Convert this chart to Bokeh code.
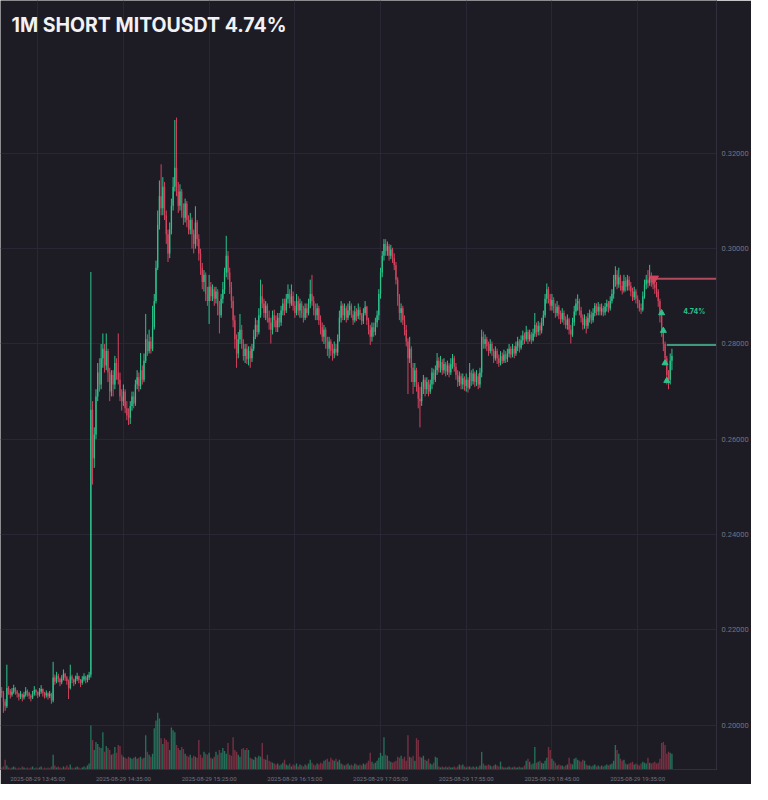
import numpy as np
from bokeh.plotting import figure
from bokeh.models import ColumnDataSource, FixedTicker, Range1d, Label, PrintfTickFormatter
from bokeh.embed import file_html
from bokeh.resources import INLINE

# ---------------- data ----------------
title_text = "1M SHORT MITOUSDT 4.74%"
start_minute = 24          # first candle 13:24 (minutes after 13:00), 1-minute candles
first_open = 0.2072

closes = [
    0.2068, 0.2050, 0.2040, 0.2078, 0.2072, 0.2064, 0.2070, 0.2078, 0.2071, 0.2066,
    0.2060, 0.2066, 0.2058, 0.2064, 0.2072, 0.2068, 0.2062, 0.2058, 0.2066, 0.2074,
    0.2069, 0.2064, 0.2071, 0.2076, 0.2068, 0.2063, 0.2067, 0.2061, 0.2066, 0.2052,
    0.2100, 0.2092, 0.2104, 0.2097, 0.2090, 0.2098, 0.2108, 0.2100, 0.2093, 0.2078,
    0.2102, 0.2096, 0.2090, 0.2097, 0.2103, 0.2095, 0.2089, 0.2096, 0.2102, 0.2095,
    0.2100, 0.2106, 0.2662, 0.2560, 0.2610, 0.2690, 0.2740, 0.2715, 0.2770, 0.2790,
    0.2755, 0.2785, 0.2740, 0.2700, 0.2735, 0.2715, 0.2760, 0.2740, 0.2725, 0.2690,
    0.2680, 0.2700, 0.2665, 0.2650, 0.2645, 0.2670, 0.2690, 0.2675, 0.2715, 0.2730,
    0.2712, 0.2745, 0.2725, 0.2765, 0.2810, 0.2785, 0.2805, 0.2790, 0.2835, 0.2890,
    0.2960, 0.3050, 0.3110, 0.3085, 0.3130, 0.3070, 0.3030, 0.2990, 0.3040, 0.3090,
    0.3130, 0.3170, 0.3120, 0.3090, 0.3120, 0.3080, 0.3065, 0.3095, 0.3060, 0.3040,
    0.3060, 0.3030, 0.3010, 0.3055, 0.3020, 0.2990, 0.2960, 0.2930, 0.2945, 0.2905,
    0.2890, 0.2920, 0.2900, 0.2915, 0.2895, 0.2910, 0.2880, 0.2860, 0.2895, 0.2915,
    0.2950, 0.2985, 0.2950, 0.2920, 0.2890, 0.2850, 0.2810, 0.2780, 0.2810, 0.2830,
    0.2800, 0.2775, 0.2790, 0.2768, 0.2785, 0.2770, 0.2790, 0.2815, 0.2840, 0.2825,
    0.2860, 0.2900, 0.2885, 0.2865, 0.2880, 0.2855, 0.2845, 0.2830, 0.2860, 0.2850,
    0.2835, 0.2855, 0.2845, 0.2870, 0.2885, 0.2870, 0.2895, 0.2905, 0.2885, 0.2900,
    0.2880, 0.2865, 0.2890, 0.2870, 0.2885, 0.2865, 0.2855, 0.2875, 0.2865, 0.2885,
    0.2905, 0.2890, 0.2870, 0.2860, 0.2875, 0.2850, 0.2835, 0.2815, 0.2830, 0.2805,
    0.2790, 0.2805, 0.2785, 0.2780, 0.2790, 0.2782, 0.2810, 0.2855, 0.2880, 0.2860,
    0.2875, 0.2855, 0.2870, 0.2880, 0.2862, 0.2850, 0.2868, 0.2858, 0.2872, 0.2860,
    0.2848, 0.2865, 0.2878, 0.2850, 0.2830, 0.2815, 0.2835, 0.2825, 0.2845, 0.2860,
    0.2905, 0.2950, 0.2985, 0.3010, 0.2995, 0.3005, 0.2985, 0.2998, 0.2980, 0.2965,
    0.2935, 0.2900, 0.2865, 0.2875, 0.2850, 0.2830, 0.2805, 0.2770, 0.2790, 0.2750,
    0.2720, 0.2745, 0.2715, 0.2685, 0.2680, 0.2710, 0.2725, 0.2705, 0.2720, 0.2700,
    0.2715, 0.2740, 0.2725, 0.2745, 0.2765, 0.2750, 0.2762, 0.2745, 0.2758, 0.2742,
    0.2755, 0.2740, 0.2758, 0.2770, 0.2752, 0.2735, 0.2720, 0.2732, 0.2715, 0.2728,
    0.2712, 0.2725, 0.2708, 0.2740, 0.2722, 0.2738, 0.2720, 0.2732, 0.2715, 0.2740,
    0.2815, 0.2800, 0.2810, 0.2795, 0.2785, 0.2800, 0.2785, 0.2770, 0.2785, 0.2770,
    0.2760, 0.2775, 0.2765, 0.2778, 0.2768, 0.2780, 0.2790, 0.2778, 0.2790, 0.2780,
    0.2795, 0.2805, 0.2792, 0.2808, 0.2818, 0.2810, 0.2825, 0.2810, 0.2820, 0.2808,
    0.2822, 0.2840, 0.2825, 0.2838, 0.2828, 0.2845, 0.2860, 0.2895, 0.2915, 0.2895,
    0.2880, 0.2892, 0.2875, 0.2865, 0.2878, 0.2862, 0.2852, 0.2865, 0.2850, 0.2840,
    0.2852, 0.2830, 0.2820, 0.2845, 0.2868, 0.2885, 0.2890, 0.2870, 0.2855, 0.2840,
    0.2852, 0.2838, 0.2855, 0.2862, 0.2850, 0.2865, 0.2880, 0.2868, 0.2878, 0.2868,
    0.2875, 0.2866, 0.2878, 0.2885, 0.2875, 0.2890, 0.2905, 0.2935, 0.2945, 0.2925,
    0.2940, 0.2922, 0.2912, 0.2932, 0.2920, 0.2935, 0.2922, 0.2910, 0.2898, 0.2910,
    0.2895, 0.2885, 0.2875, 0.2872, 0.2900, 0.2925, 0.2935, 0.2928, 0.2940, 0.2930,
    0.2925, 0.2918, 0.2910, 0.2890, 0.2860, 0.2830, 0.2800, 0.2770, 0.2735, 0.2725,
    0.2765, 0.2775,
]

highs = [
    0.2080, 0.2072, 0.2055, 0.2127, 0.2082, 0.2076, 0.2078, 0.2085, 0.2080, 0.2074,
    0.2068, 0.2072, 0.2065, 0.2070, 0.2080, 0.2075, 0.2070, 0.2065, 0.2072, 0.2082,
    0.2076, 0.2071, 0.2078, 0.2084, 0.2077, 0.2070, 0.2073, 0.2069, 0.2072, 0.2068,
    0.2133, 0.2106, 0.2112, 0.2108, 0.2100, 0.2105, 0.2117, 0.2110, 0.2103, 0.2096,
    0.2127, 0.2106, 0.2098, 0.2104, 0.2110, 0.2104, 0.2097, 0.2103, 0.2109, 0.2104,
    0.2106, 0.2112, 0.2951, 0.2680, 0.2625, 0.2705, 0.2760, 0.2770, 0.2800, 0.2822,
    0.2800, 0.2822, 0.2790, 0.2750, 0.2745, 0.2745, 0.2775, 0.2770, 0.2822, 0.2740,
    0.2705, 0.2715, 0.2705, 0.2680, 0.2665, 0.2680, 0.2700, 0.2700, 0.2725, 0.2745,
    0.2740, 0.2781, 0.2755, 0.2780, 0.2863, 0.2820, 0.2830, 0.2815, 0.2880, 0.2905,
    0.2975, 0.3080, 0.3143, 0.3177, 0.3150, 0.3140, 0.3080, 0.3040, 0.3055, 0.3105,
    0.3150, 0.3270, 0.3275, 0.3140, 0.3135, 0.3125, 0.3095, 0.3105, 0.3100, 0.3070,
    0.3075, 0.3065, 0.3040, 0.3089, 0.3060, 0.3030, 0.3000, 0.2970, 0.2955, 0.2950,
    0.2920, 0.2945, 0.2930, 0.2925, 0.2920, 0.2920, 0.2915, 0.2890, 0.2905, 0.2930,
    0.2960, 0.3027, 0.2995, 0.2960, 0.2930, 0.2900, 0.2860, 0.2820, 0.2825, 0.2863,
    0.2840, 0.2810, 0.2800, 0.2800, 0.2795, 0.2795, 0.2800, 0.2830, 0.2855, 0.2850,
    0.2875, 0.2935, 0.2925, 0.2895, 0.2890, 0.2885, 0.2870, 0.2855, 0.2870, 0.2872,
    0.2860, 0.2865, 0.2865, 0.2880, 0.2895, 0.2895, 0.2905, 0.2925, 0.2915, 0.2925,
    0.2910, 0.2890, 0.2905, 0.2900, 0.2895, 0.2890, 0.2880, 0.2885, 0.2885, 0.2895,
    0.2935, 0.2945, 0.2900, 0.2885, 0.2885, 0.2880, 0.2860, 0.2845, 0.2840, 0.2835,
    0.2815, 0.2815, 0.2810, 0.2800, 0.2805, 0.2800, 0.2820, 0.2870, 0.2890, 0.2885,
    0.2885, 0.2880, 0.2885, 0.2890, 0.2885, 0.2870, 0.2880, 0.2875, 0.2885, 0.2878,
    0.2865, 0.2875, 0.2890, 0.2880, 0.2855, 0.2840, 0.2845, 0.2845, 0.2855, 0.2870,
    0.2915, 0.2960, 0.2995, 0.3020, 0.3020, 0.3015, 0.3010, 0.3008, 0.3002, 0.2990,
    0.2972, 0.2940, 0.2905, 0.2885, 0.2880, 0.2860, 0.2840, 0.2812, 0.2815, 0.2795,
    0.2760, 0.2760, 0.2750, 0.2720, 0.2710, 0.2720, 0.2735, 0.2730, 0.2730, 0.2725,
    0.2725, 0.2750, 0.2748, 0.2755, 0.2781, 0.2772, 0.2775, 0.2768, 0.2770, 0.2762,
    0.2765, 0.2760, 0.2770, 0.2779, 0.2775, 0.2760, 0.2745, 0.2742, 0.2738, 0.2738,
    0.2732, 0.2738, 0.2730, 0.2760, 0.2745, 0.2748, 0.2742, 0.2745, 0.2738, 0.2750,
    0.2830, 0.2826, 0.2820, 0.2815, 0.2805, 0.2810, 0.2805, 0.2790, 0.2795, 0.2790,
    0.2778, 0.2785, 0.2782, 0.2788, 0.2785, 0.2790, 0.2800, 0.2795, 0.2800, 0.2796,
    0.2805, 0.2815, 0.2810, 0.2818, 0.2828, 0.2824, 0.2838, 0.2830, 0.2830, 0.2825,
    0.2832, 0.2865, 0.2845, 0.2848, 0.2845, 0.2855, 0.2870, 0.2905, 0.2927, 0.2920,
    0.2905, 0.2905, 0.2898, 0.2885, 0.2890, 0.2882, 0.2870, 0.2875, 0.2870, 0.2858,
    0.2862, 0.2855, 0.2840, 0.2855, 0.2880, 0.2895, 0.2904, 0.2895, 0.2878, 0.2862,
    0.2862, 0.2858, 0.2865, 0.2872, 0.2868, 0.2875, 0.2886, 0.2885, 0.2888, 0.2884,
    0.2885, 0.2880, 0.2886, 0.2893, 0.2890, 0.2900, 0.2915, 0.2945, 0.2963, 0.2955,
    0.2960, 0.2945, 0.2932, 0.2945, 0.2940, 0.2945, 0.2942, 0.2930, 0.2918, 0.2920,
    0.2915, 0.2902, 0.2892, 0.2885, 0.2910, 0.2935, 0.2945, 0.2955, 0.2966, 0.2950,
    0.2942, 0.2937, 0.2930, 0.2915, 0.2895, 0.2865, 0.2835, 0.2805, 0.2775, 0.2745,
    0.2780, 0.2790,
]

lows = [
    0.2058, 0.2026, 0.2030, 0.2036, 0.2064, 0.2056, 0.2060, 0.2066, 0.2064, 0.2058,
    0.2052, 0.2055, 0.2050, 0.2054, 0.2060, 0.2060, 0.2055, 0.2050, 0.2055, 0.2062,
    0.2062, 0.2057, 0.2060, 0.2066, 0.2060, 0.2056, 0.2058, 0.2054, 0.2057, 0.2045,
    0.2048, 0.2085, 0.2088, 0.2090, 0.2082, 0.2086, 0.2094, 0.2093, 0.2085, 0.2055,
    0.2075, 0.2088, 0.2082, 0.2086, 0.2093, 0.2088, 0.2080, 0.2085, 0.2092, 0.2088,
    0.2090, 0.2095, 0.2100, 0.2505, 0.2540, 0.2600, 0.2680, 0.2700, 0.2705, 0.2750,
    0.2740, 0.2745, 0.2720, 0.2680, 0.2690, 0.2690, 0.2705, 0.2725, 0.2715, 0.2680,
    0.2660, 0.2670, 0.2655, 0.2640, 0.2630, 0.2632, 0.2660, 0.2665, 0.2670, 0.2705,
    0.2700, 0.2705, 0.2715, 0.2720, 0.2760, 0.2775, 0.2780, 0.2780, 0.2785, 0.2830,
    0.2885, 0.2955, 0.3040, 0.3070, 0.3070, 0.3060, 0.3010, 0.2972, 0.2980, 0.3030,
    0.3080, 0.3120, 0.3110, 0.3075, 0.3080, 0.3065, 0.3050, 0.3055, 0.3045, 0.3030,
    0.3030, 0.3000, 0.2990, 0.3000, 0.3005, 0.2975, 0.2945, 0.2915, 0.2910, 0.2890,
    0.2880, 0.2842, 0.2890, 0.2890, 0.2880, 0.2885, 0.2860, 0.2822, 0.2855, 0.2885,
    0.2905, 0.2940, 0.2935, 0.2905, 0.2875, 0.2835, 0.2790, 0.2750, 0.2770, 0.2800,
    0.2790, 0.2765, 0.2760, 0.2758, 0.2755, 0.2750, 0.2762, 0.2785, 0.2810, 0.2815,
    0.2820, 0.2855, 0.2875, 0.2855, 0.2850, 0.2845, 0.2830, 0.2801, 0.2820, 0.2835,
    0.2825, 0.2825, 0.2835, 0.2838, 0.2860, 0.2860, 0.2865, 0.2885, 0.2875, 0.2880,
    0.2870, 0.2855, 0.2860, 0.2860, 0.2855, 0.2855, 0.2845, 0.2850, 0.2855, 0.2860,
    0.2875, 0.2880, 0.2860, 0.2850, 0.2850, 0.2840, 0.2820, 0.2805, 0.2800, 0.2790,
    0.2775, 0.2770, 0.2775, 0.2765, 0.2770, 0.2776, 0.2775, 0.2805, 0.2845, 0.2850,
    0.2850, 0.2845, 0.2850, 0.2860, 0.2855, 0.2840, 0.2845, 0.2848, 0.2852, 0.2850,
    0.2840, 0.2842, 0.2860, 0.2840, 0.2820, 0.2798, 0.2805, 0.2815, 0.2818, 0.2835,
    0.2850, 0.2895, 0.2940, 0.2975, 0.2985, 0.2985, 0.2975, 0.2978, 0.2970, 0.2955,
    0.2925, 0.2880, 0.2850, 0.2845, 0.2840, 0.2818, 0.2795, 0.2695, 0.2760, 0.2720,
    0.2695, 0.2710, 0.2700, 0.2665, 0.2625, 0.2670, 0.2695, 0.2690, 0.2695, 0.2690,
    0.2695, 0.2705, 0.2715, 0.2720, 0.2735, 0.2740, 0.2740, 0.2735, 0.2738, 0.2732,
    0.2735, 0.2730, 0.2735, 0.2748, 0.2742, 0.2725, 0.2710, 0.2712, 0.2705, 0.2705,
    0.2702, 0.2700, 0.2698, 0.2705, 0.2712, 0.2715, 0.2710, 0.2712, 0.2705, 0.2708,
    0.2730, 0.2790, 0.2790, 0.2785, 0.2775, 0.2780, 0.2775, 0.2760, 0.2765, 0.2758,
    0.2752, 0.2755, 0.2758, 0.2760, 0.2760, 0.2762, 0.2772, 0.2770, 0.2772, 0.2770,
    0.2775, 0.2785, 0.2782, 0.2788, 0.2798, 0.2800, 0.2805, 0.2800, 0.2805, 0.2800,
    0.2805, 0.2815, 0.2815, 0.2818, 0.2818, 0.2822, 0.2838, 0.2855, 0.2885, 0.2885,
    0.2870, 0.2870, 0.2865, 0.2855, 0.2858, 0.2852, 0.2842, 0.2845, 0.2840, 0.2832,
    0.2830, 0.2820, 0.2801, 0.2815, 0.2838, 0.2860, 0.2870, 0.2860, 0.2845, 0.2830,
    0.2832, 0.2822, 0.2832, 0.2845, 0.2842, 0.2845, 0.2858, 0.2860, 0.2860, 0.2860,
    0.2860, 0.2858, 0.2860, 0.2868, 0.2866, 0.2870, 0.2885, 0.2895, 0.2920, 0.2915,
    0.2918, 0.2912, 0.2904, 0.2908, 0.2910, 0.2912, 0.2912, 0.2900, 0.2890, 0.2892,
    0.2885, 0.2875, 0.2868, 0.2863, 0.2868, 0.2895, 0.2915, 0.2918, 0.2922, 0.2920,
    0.2915, 0.2905, 0.2898, 0.2878, 0.2845, 0.2815, 0.2785, 0.2755, 0.2715, 0.2705,
    0.2715, 0.2745,
]

volumes = [
    20, 30, 100, 40, 20, 10, 20, 30, 20, 10,
    20, 10, 30, 20, 10, 20, 10, 20, 30, 10,
    20, 10, 20, 30, 10, 20, 10, 20, 10, 30,
    150, 40, 20, 30, 20, 10, 30, 20, 40, 20,
    50, 20, 10, 20, 30, 20, 10, 20, 30, 20,
    40, 60, 450, 300, 200, 280, 260, 230, 220, 380,
    180, 240, 220, 200, 150, 160, 230, 170, 250, 240,
    150, 130, 120, 110, 130, 120, 110, 120, 130, 110,
    120, 130, 110, 120, 350, 180, 150, 130, 160, 420,
    500, 580, 520, 320, 260, 320, 300, 280, 200, 430,
    400, 380, 250, 220, 200, 230, 210, 160, 140, 130,
    150, 120, 140, 130, 120, 300, 150, 120, 180, 160,
    150, 170, 120, 110, 130, 180, 150, 200, 170, 220,
    190, 160, 270, 150, 140, 330, 200, 180, 150, 130,
    210, 220, 200, 220, 200, 120, 110, 100, 130, 120,
    140, 130, 270, 110, 100, 150, 90, 80, 70, 60,
    50, 60, 40, 50, 70, 100, 50, 40, 60, 30,
    50, 40, 60, 30, 50, 40, 30, 50, 40, 60,
    100, 70, 50, 40, 60, 50, 70, 60, 90, 100,
    110, 80, 120, 100, 90, 110, 80, 100, 60, 50,
    40, 50, 60, 40, 50, 40, 60, 50, 40, 50,
    40, 60, 50, 70, 90, 170, 80, 60, 70, 90,
    120, 170, 140, 330, 150, 140, 90, 80, 70, 80,
    90, 130, 120, 140, 110, 130, 90, 350, 130, 120,
    140, 90, 320, 300, 130, 120, 140, 100, 90, 110,
    60, 50, 70, 130, 120, 30, 20, 30, 20, 30,
    20, 30, 20, 20, 30, 20, 30, 50, 40, 50,
    30, 20, 30, 30, 20, 30, 20, 30, 20, 40,
    180, 60, 40, 40, 50, 40, 30, 40, 50, 40,
    30, 80, 30, 20, 20, 20, 30, 20, 20, 30,
    20, 20, 30, 20, 20, 40, 90, 110, 80, 50,
    60, 230, 70, 80, 90, 70, 60, 90, 120, 230,
    200, 110, 90, 70, 40, 50, 40, 40, 30, 40,
    50, 120, 60, 50, 110, 120, 100, 90, 80, 100,
    90, 50, 40, 40, 30, 40, 50, 30, 40, 30,
    40, 30, 40, 50, 40, 50, 60, 90, 250, 200,
    160, 110, 90, 100, 60, 50, 60, 70, 80, 50,
    60, 50, 40, 60, 80, 70, 60, 120, 70, 60,
    70, 80, 60, 70, 110, 270, 280, 250, 160, 180,
    170, 160,
]

x_tick_minutes = [45, 95, 145, 195, 245, 295, 345, 395]
x_tick_labels = [
    "2025-08-29 13:45:00", "2025-08-29 14:35:00", "2025-08-29 15:25:00",
    "2025-08-29 16:15:00", "2025-08-29 17:05:00", "2025-08-29 17:55:00",
    "2025-08-29 18:45:00", "2025-08-29 19:35:00",
]
y_ticks = [0.20, 0.22, 0.24, 0.26, 0.28, 0.30, 0.32]

entry_minute = 404.5
entry_price = 0.2937
exit_minute = 412
exit_price = 0.2798
trade_result = "4.74%"
exit_marker_minutes = [409, 410, 411, 412]
exit_marker_prices = [0.2865, 0.2828, 0.2760, 0.2723]

# ---------------- style / layout ----------------
BG = "#1d1c25"
GRID = "#282733"
GREEN = "#2bc48b"
RED = "#d4445e"
LINE_RED = "#b04a5c"
LINE_GREEN = "#3f9a7d"
LABEL = "#73727e"

FRAME_W, FRAME_H = 716, 769
X0, X1 = 23.29, 441.0
Y0, Y1 = 0.19071, 0.35207
VOL_TOP = 7850

n = len(closes)
t = start_minute + np.arange(n)
c = np.array(closes)
o = np.array([first_open] + closes[:-1])
h = np.maximum(np.array(highs), np.maximum(o, c))
l = np.minimum(np.array(lows), np.minimum(o, c))
color = np.where(c >= o, GREEN, RED)

src = ColumnDataSource(dict(
    t=t, top=np.maximum(o, c), bot=np.minimum(o, c), h=h, l=l,
    color=color, vol=np.array(volumes[:n]),
))

p = figure(
    frame_width=FRAME_W, frame_height=FRAME_H,
    x_range=Range1d(X0, X1), y_range=Range1d(Y0, Y1),
    y_axis_location="right",
    output_backend="svg", toolbar_location=None,
    background_fill_color=BG, border_fill_color=BG,
    min_border_left=0, min_border_top=0, min_border_right=0, min_border_bottom=0,
)
p.outline_line_color = None
p.extra_y_ranges = {"vol": Range1d(0, VOL_TOP)}

# volume
p.vbar(x="t", top="vol", bottom=0, width=0.8, y_range_name="vol",
       fill_color="color", fill_alpha=0.5, line_color=None, source=src)

# candles
p.segment(x0="t", y0="h", x1="t", y1="l", line_color="color", line_width=1, source=src)
p.vbar(x="t", top="top", bottom="bot", width=0.75, fill_color="color",
       line_color=None, source=src)

# trade lines & markers
p.segment(x0=[entry_minute], y0=[entry_price], x1=[X1 + 5], y1=[entry_price],
          line_color=LINE_RED, line_width=2)
p.segment(x0=[exit_minute], y0=[exit_price], x1=[X1 + 5], y1=[exit_price],
          line_color=LINE_GREEN, line_width=2)
p.scatter(x=[entry_minute], y=[entry_price], marker="inverted_triangle", size=9,
          fill_color=RED, line_color=RED)
p.scatter(x=exit_marker_minutes, y=exit_marker_prices, marker="triangle", size=6,
          fill_color=GREEN, line_color=GREEN)

p.add_layout(Label(x=428, y=(entry_price + exit_price) / 2, text=trade_result,
                   text_align="center", text_baseline="middle",
                   text_font="Inter", text_font_size="7px", text_font_style="bold",
                   text_color=GREEN))

p.add_layout(Label(x=11, y=FRAME_H - 12, x_units="screen", y_units="screen",
                   text=title_text, text_align="left", text_baseline="top",
                   text_font="Inter", text_font_size="19.5px", text_font_style="bold",
                   text_color="#f2f2f4"))

# axes
p.yaxis.ticker = FixedTicker(ticks=y_ticks)
p.yaxis.formatter = PrintfTickFormatter(format="%.5f")
p.yaxis.major_label_text_font = "Roboto"
p.yaxis.major_label_text_font_size = "7.5px"
p.yaxis.major_label_text_color = LABEL
p.yaxis.major_label_standoff = 5
p.yaxis.major_tick_out = 0
p.yaxis.major_tick_in = 0
p.yaxis.minor_tick_out = 0
p.yaxis.minor_tick_in = 0
p.yaxis.axis_line_color = "#302f3b"

p.xaxis.ticker = FixedTicker(ticks=x_tick_minutes)
p.xaxis.major_label_overrides = {m: lab for m, lab in zip(x_tick_minutes, x_tick_labels)}
p.xaxis.major_label_text_font = "Roboto"
p.xaxis.major_label_text_font_size = "6px"
p.xaxis.major_label_text_color = LABEL
p.xaxis.major_label_standoff = 5
p.xaxis.major_tick_out = 0
p.xaxis.major_tick_in = 0
p.xaxis.minor_tick_out = 0
p.xaxis.minor_tick_in = 0
p.xaxis.axis_line_color = "#302f3b"

p.xgrid.grid_line_color = GRID
p.ygrid.grid_line_color = GRID

open("out.html", "w").write(file_html(p, INLINE))
